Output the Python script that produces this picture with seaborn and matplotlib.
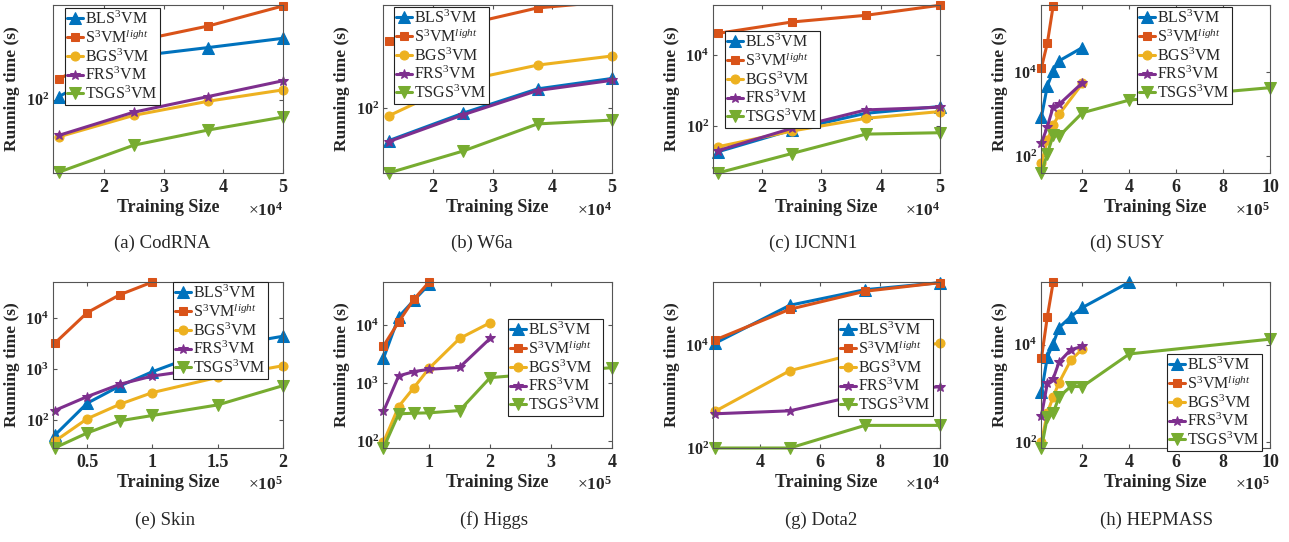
import numpy as np
import pandas as pd
import matplotlib.pyplot as plt
import seaborn as sns
from matplotlib.ticker import NullLocator

sns.set_style('ticks')
plt.rcParams['font.family'] = ['Liberation Serif', 'DejaVu Serif']
plt.rcParams['mathtext.fontset'] = 'custom'
plt.rcParams['mathtext.rm'] = 'Liberation Serif'
plt.rcParams['mathtext.it'] = 'Liberation Serif:italic'
plt.rcParams['mathtext.bf'] = 'Liberation Serif:bold'

methods = ['BLS$^3$VM', 'S$^3$VM$^{light}$', 'BGS$^3$VM', 'FRS$^3$VM', 'TSGS$^3$VM']
colors = ['#0072BD', '#D95319', '#EDB120', '#7E2F8E', '#77AC30']
markers = ['^', 's', 'o', '*', 'v']

# running times (s), order: BLS, S3VM-light, BGS, FRS, TSGS
codrna_sizes = [12500, 25000, 37500, 50000]
codrna_times = [[107, 248, 299, 363],
                [155, 339, 470, 716],
                [46, 72, 97, 123],
                [47.4, 77, 107, 149],
                [21.9, 38.5, 53, 69.5]]

w6a_sizes = [12500, 25000, 37500, 50000]
w6a_times = [[50.8, 90, 149, 185],
             [404, 560, 800, 916],
             [85, 176, 244, 295],
             [49.8, 87, 144, 178],
             [26, 41, 72, 78]]

ijcnn1_sizes = [12500, 25000, 37500, 50000]
ijcnn1_times = [[18.6, 77, 229, 355],
                [41300, 86700, 134000, 258000],
                [25.8, 72, 165, 256],
                [20, 86, 285, 339],
                [4.7, 16.7, 59, 64.6]]

susy_sizes = [25000, 50000, 75000, 100000, 200000, 400000, 1000000]
susy_times = [[871, 4710, 10800, 18700, 38900],
              [12900, 49300, 385000],
              [69, 241, 548, 995, 5460],
              [208, 503, 1510, 1720, 5660],
              [40, 116, 318, 301, 1090, 2180, 4300]]

skin_sizes = [25000, 50000, 75000, 100000, 150000, 200000]
skin_times = [[51, 217, 471, 894, 2650, 4400],
              [3180, 12700, 28400, 50300],
              [39, 108, 207, 350, 693, 1170],
              [156, 292, 508, 736, 1120],
              [29, 57, 98.5, 125, 201, 478]]

higgs_sizes = [25000, 50000, 75000, 100000, 150000, 200000, 400000]
higgs_times = [[2680, 13900, 26800, 50400],
               [4360, 11400, 27900, 55300],
               [96, 398, 843, 1810, 5910, 11000],
               [327, 1340, 1590, 1740, 1880, 5910],
               [77, 298, 306, 310, 340, 1250, 1860]]

dota2_sizes = [25000, 50000, 75000, 100000]
dota2_times = [[10800, 59400, 119000, 163000],
               [12500, 49700, 111000, 163000],
               [513, 3180, 7530, 10800],
               [462, 528, 1130, 1560],
               [100, 100, 275, 275]]

hepmass_sizes = [25000, 50000, 75000, 100000, 150000, 200000, 400000, 1000000]
hepmass_times = [[1040, 5610, 10500, 22500, 37700, 58300, 194000],
                 [5360, 37700, 194000],
                 [100, 395, 849, 1660, 4800, 8170],
                 [349, 1610, 2000, 4380, 7910, 9250],
                 [75.5, 322, 395, 849, 1380, 1380, 6460, 13000]]

captions = ['(a) CodRNA', '(b) W6a', '(c) IJCNN1', '(d) SUSY',
            '(e) Skin', '(f) Higgs', '(g) Dota2', '(h) HEPMASS']
x_exps = [4, 4, 4, 5, 5, 5, 4, 5]
x_ticks = [[2, 3, 4, 5], [2, 3, 4, 5], [2, 3, 4, 5], [2, 4, 6, 8, 10],
           [0.5, 1, 1.5, 2], [1, 2, 3, 4], [4, 6, 8, 10], [2, 4, 6, 8, 10]]
y_exps = [[2], [2], [2, 4], [2, 4], [2, 3, 4], [2, 3, 4], [2, 4], [2, 4]]
x_lims = [(11500, 50000), (11570, 50000), (11700, 50000), (23000, 1000000),
          (23800, 200000), (24300, 400000), (24400, 100000), (23000, 1000000)]
y_lims = [(21.5, 730), (26, 850), (4.7, 262000), (40, 400000),
          (29, 50300), (77, 55300), (100, 168000), (75, 195000)]

all_sizes = [codrna_sizes, w6a_sizes, ijcnn1_sizes, susy_sizes,
             skin_sizes, higgs_sizes, dota2_sizes, hepmass_sizes]
all_times = [codrna_times, w6a_times, ijcnn1_times, susy_times,
             skin_times, higgs_times, dota2_times, hepmass_times]

# layout in pixels
W, H = 1289, 542
cols = [(53, 283), (383, 612), (713, 940), (1041, 1270)]
rows = [(5, 173), (282, 448)]
leg_pos = [(65, 8), (394, 7), (725, 31), (1137, 7),
           (173, 282), (508, 319), (838, 319), (1167, 354)]
cap_x = [162, 482, 813, 1127, 165, 494, 821, 1156]
cap_y = [243, 520]
ylabel_off = 33
msize = {'^': 8, 'v': 8, 's': 6, 'o': 6.5, '*': 7.5}
frame = '#555555'
txt = '#262626'

fig = plt.figure(figsize=(W / 100, H / 100), dpi=100)

for i in range(8):
    l, r = cols[i % 4]
    t, b = rows[i // 4]
    ax = fig.add_axes([l / W, 1 - b / H, (r - l) / W, (b - t) / H])

    sizes, times = all_sizes[i], all_times[i]
    recs = []
    for m, ts in zip(methods, times):
        for s, v in zip(sizes, ts):
            recs.append({'size': s, 'time': v, 'method': m})
    df = pd.DataFrame(recs)

    sns.lineplot(data=df, x='size', y='time', hue='method', style='method',
                 hue_order=methods, style_order=methods,
                 palette=dict(zip(methods, colors)),
                 markers=dict(zip(methods, markers)), dashes=False,
                 lw=2.2, legend=False, ax=ax, sort=False)
    ax.set_yscale('log')
    ax.set_xlim(*x_lims[i])
    ax.set_ylim(*y_lims[i])

    for line in ax.lines:
        line.set_markeredgecolor(line.get_color())
        line.set_markerfacecolor(line.get_color())
        line.set_markersize(msize[line.get_marker()])
        yd = np.asarray(line.get_ydata())
        line.set_clip_on(bool(yd.max() > y_lims[i][1] * 1.01))

    e = x_exps[i]
    ax.set_xticks([v * 10 ** e for v in x_ticks[i]])
    ax.set_xticklabels(['%g' % v for v in x_ticks[i]], fontweight='bold')
    ax.set_yticks([10.0 ** k for k in y_exps[i]])
    ax.set_yticklabels([r'$\mathbf{10^{%d}}$' % k for k in y_exps[i]])
    ax.yaxis.set_minor_locator(NullLocator())
    ax.xaxis.set_minor_locator(NullLocator())
    ax.tick_params(direction='in', top=True, right=True, length=3,
                   width=0.8, color=frame, labelcolor=txt)
    ax.tick_params(axis='x', labelsize=13, pad=4)
    ax.tick_params(axis='y', labelsize=11.5, pad=3)
    for sp in ax.spines.values():
        sp.set_color(frame)
        sp.set_linewidth(0.8)

    ax.set_xlabel('Training Size', fontsize=13, fontweight='bold', color=txt)
    ax.set_ylabel('Running time (s)', fontsize=12.5, fontweight='bold', color=txt)
    ax.xaxis.set_label_coords(0.5, -0.155)
    ax.yaxis.set_label_coords(-ylabel_off / (r - l), 0.5)
    ax.text(1.0, -0.17, r'$\times\mathbf{10^{%d}}$' % e, transform=ax.transAxes,
            ha='right', va='top', fontsize=12.5, color=txt)

    lx, ly = leg_pos[i]
    leg = ax.legend(ax.lines[:5], methods, loc='upper left',
                    bbox_to_anchor=(lx / W, 1 - ly / H), bbox_transform=fig.transFigure,
                    borderaxespad=0, fontsize=11.5, labelspacing=0.08, borderpad=0.15,
                    handlelength=1.0, handletextpad=0.1, fancybox=False,
                    framealpha=1, edgecolor='#222222')
    leg.get_frame().set_linewidth(0.8)

    fig.text(cap_x[i] / W, 1 - cap_y[i // 4] / H, captions[i], ha='center',
             va='center', fontsize=13.5)

fig.savefig('out.png', dpi=100)
